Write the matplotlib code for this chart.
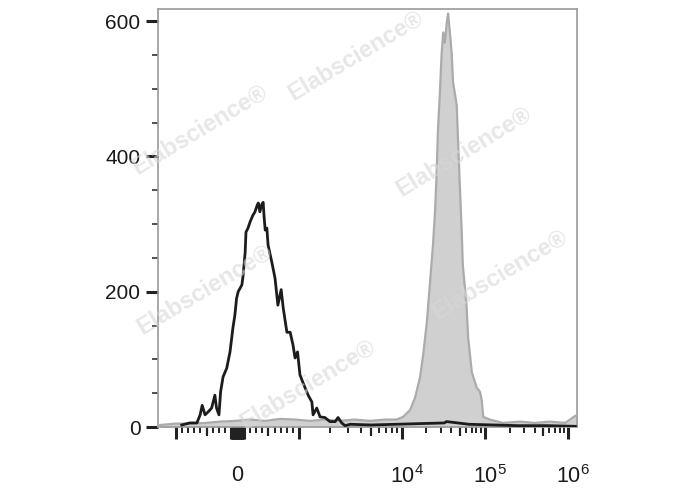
import numpy as np
import matplotlib
matplotlib.use("Agg")
import matplotlib.pyplot as plt
import matplotlib.transforms as mtransforms

plt.rcParams['font.family'] = ['Liberation Sans', 'DejaVu Sans']
plt.rcParams['mathtext.default'] = 'regular'

# ---- data (x in display channels 0..1024, y = event count) ----
black_ch = [58, 78, 95, 103, 108, 115, 122, 131, 139, 143, 149, 153, 159, 168, 176,
            183, 188, 192, 196, 205, 208, 213, 215, 220, 225, 232, 237, 242, 245, 249,
            253, 257, 259, 262, 266, 269, 278, 286, 293, 301, 306, 315, 323, 330, 335,
            341, 347, 354, 367, 376, 379, 388, 396, 408, 420, 433, 440, 449, 457,
            470, 520, 580, 640, 700, 705, 760, 820, 880, 950, 1020]
black_cnt = [3, 6, 6, 18, 32, 18, 22, 28, 47, 28, 18, 52, 74, 87, 111,
             146, 166, 190, 200, 210, 224, 258, 288, 294, 303, 313, 318, 327, 331, 318,
             328, 332, 313, 291, 294, 269, 244, 220, 180, 203, 176, 140, 140, 121, 102,
             111, 77, 66, 47, 37, 18, 28, 15, 14, 8, 8, 14, 6, 2,
             4, 3, 4, 5, 6, 8, 4, 3, 2, 2, 1]

gray_ch = [0, 5, 42, 78, 115, 152, 188, 225, 262, 298, 335, 372, 408, 445, 481,
           518, 555, 583, 599, 616, 628, 640, 648, 657, 665, 672, 677, 681, 684, 689,
           693, 697, 701, 706, 709, 714, 718, 721, 730, 733, 738, 742, 745, 754, 758,
           767, 779, 787, 791, 795, 811, 843, 885, 921, 958, 995, 1014, 1024]
gray_cnt = [0, 3, 5, 5, 6, 8, 9, 11, 9, 12, 11, 9, 11, 9, 11,
            9, 11, 11, 15, 25, 43, 72, 106, 155, 215, 269, 318, 376, 436, 495,
            550, 583, 568, 599, 611, 579, 550, 510, 476, 427, 351, 293, 239, 180, 132,
            81, 58, 52, 40, 15, 11, 6, 8, 6, 8, 6, 14, 18]

y_major = [0, 200, 400, 600]
x_labels = {0: '0', 1e4: '$10^4$', 1e5: '$10^5$', 1e6: '$10^6$'}

# biexponential-like axis: linear inside +-1000, log outside
ZERO_CH, LIN, DEC1, DEC2 = 194.3, 0.1515, 249.3, 202.9


def to_channel(v):
    v = np.asarray(v, float)
    a = np.abs(v)
    safe = np.maximum(a, 1.0)
    out = np.where(a <= 1000, a * LIN,
                   np.where(a <= 1e4, 1000 * LIN + DEC1 * np.log10(safe / 1000),
                            1000 * LIN + DEC1 + DEC2 * np.log10(safe / 1e4)))
    return ZERO_CH + np.sign(v) * out


near_zero = [s * k for s in (-1, 1) for k in range(10, 101, 10)]
major_vals = [-1000, 0, 1000, 1e4, 1e5, 1e6] + near_zero
medium_vals = [-500, 500, 5e3, 5e4, 5e5]
minor_vals = [s * k for s in (-1, 1) for k in range(200, 1000, 100) if k != 500]
for dec in (1e3, 1e4, 1e5):
    minor_vals += [m * dec for m in range(2, 10) if m != 5]

fig = plt.figure(figsize=(6.88, 4.90), dpi=100)
ax = fig.add_axes([158 / 688, 1 - 427 / 490, 419 / 688, 417.5 / 490])

ax.fill_between(gray_ch, gray_cnt, 0, color='#d0d0d0', lw=0, zorder=1)
ax.plot(gray_ch, gray_cnt, color='#ababab', lw=1.6, zorder=3)
ax.plot(black_ch, black_cnt, color='#1c1c1c', lw=2.0, zorder=4)

# watermarks
for (px, py) in [(356, 56), (200, 130), (464, 152), (500, 275), (205, 290), (308, 385)]:
    fig.text(px / 688, 1 - py / 490, 'Elabscience\u00ae', rotation=31, ha='center', va='center',
             fontsize=17, fontweight='bold', color='#d8d8d8', alpha=0.6, zorder=2,
             transform=fig.transFigure)

ax.set_xlim(0, 1024)
ax.set_ylim(0, 617)

for s in ax.spines.values():
    s.set_color('#9a9a9a')
    s.set_linewidth(1.2)

# y axis
ax.set_yticks(y_major)
ax.set_yticks(np.arange(0, 617, 50), minor=True)
ax.tick_params(axis='y', which='major', length=8.6, width=2.2, color='#222222',
               labelsize=15, pad=4, labelcolor='#1a1a1a')
ax.tick_params(axis='y', which='minor', length=4.3, width=1.1, color='#222222')

# x axis
major_ch = to_channel(major_vals)
labels = [x_labels.get(v, '') for v in major_vals]
ax.set_xticks(major_ch, labels=labels)
ax.set_xticks(to_channel(minor_vals), minor=True)
ax.tick_params(axis='x', which='major', length=8.6, width=2.2, color='#222222',
               labelsize=15.5, pad=19, labelcolor='#1a1a1a')
ax.tick_params(axis='x', which='minor', length=4.0, width=1.4, color='#222222')
for lab in ax.get_xticklabels():
    if lab.get_text().startswith('$'):
        lab.set_transform(lab.get_transform() + mtransforms.ScaledTranslation(5 / 100, 0, fig.dpi_scale_trans))

sec = ax.secondary_xaxis('bottom')
sec.set_xticks(to_channel(medium_vals))
sec.tick_params(axis='x', length=6.4, width=1.6, color='#222222', labelbottom=False)
sec.spines['bottom'].set_visible(False)

fig.savefig('out.png', dpi=100)
